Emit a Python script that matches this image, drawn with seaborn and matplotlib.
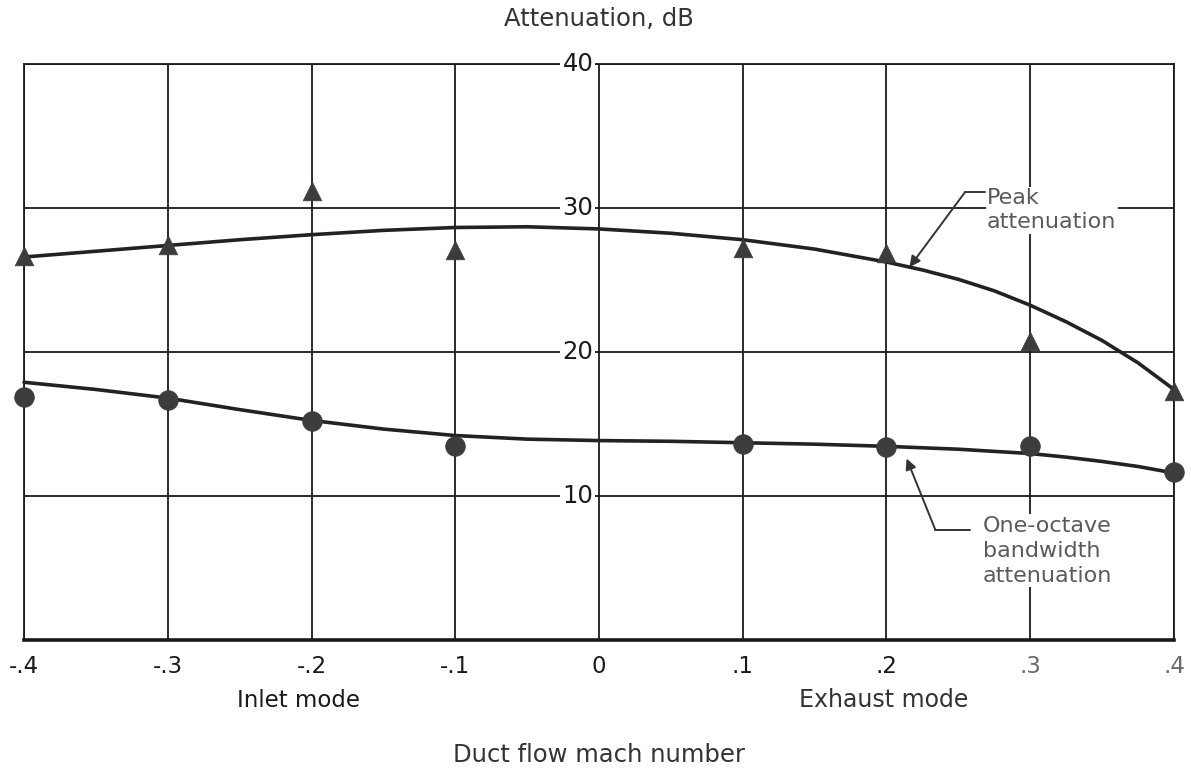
import numpy as np
import pandas as pd
import matplotlib
matplotlib.use("Agg")
import matplotlib.pyplot as plt
import matplotlib.transforms as mtransforms
import seaborn as sns

# Measured attenuation at each duct flow Mach number
mach = [-0.4, -0.3, -0.2, -0.1, 0.1, 0.2, 0.3, 0.4]
peak_measured = [26.7, 27.4, 31.2, 27.1, 27.2, 26.9, 20.8, 17.3]
octave_measured = [16.9, 16.7, 15.2, 13.5, 13.6, 13.4, 13.5, 11.7]

# Faired curves through the data
peak_curve_mach = [-0.4, -0.35, -0.3, -0.25, -0.2, -0.15, -0.1, -0.05, 0.0,
                   0.05, 0.1, 0.15, 0.2, 0.225, 0.25, 0.275, 0.3, 0.325,
                   0.35, 0.375, 0.4]
peak_curve = [26.6, 27.0, 27.4, 27.8, 28.15, 28.45, 28.65, 28.7, 28.55,
              28.25, 27.8, 27.15, 26.25, 25.7, 25.05, 24.25, 23.25, 22.1,
              20.8, 19.25, 17.4]
octave_curve_mach = [-0.4, -0.35, -0.3, -0.25, -0.2, -0.15, -0.1, -0.05, 0.0,
                     0.05, 0.1, 0.15, 0.2, 0.25, 0.3, 0.325, 0.35, 0.375, 0.4]
octave_curve = [17.9, 17.4, 16.8, 16.0, 15.25, 14.65, 14.2, 13.95, 13.85,
                13.8, 13.7, 13.6, 13.45, 13.25, 12.95, 12.7, 12.4, 12.05, 11.6]

x_ticks = [-0.4, -0.3, -0.2, -0.1, 0.0, 0.1, 0.2, 0.3, 0.4]
x_tick_labels = ["-.4", "-.3", "-.2", "-.1", "0", ".1", ".2", ".3", ".4"]
y_ticks = [10, 20, 30, 40]
y_tick_labels = ["10", "20", "30", "40"]

sns.set_theme(style="white")
plt.rcParams["font.family"] = ["DejaVu Sans"]

INK = "#1a1a1a"
FADED = "#5a5a5a"
MARK = "#3c3c3c"

fig = plt.figure(figsize=(11.91, 7.72), dpi=100)
ax = fig.add_axes([0.0202, 0.171, 0.9655, 0.746])

peak_line = pd.DataFrame({"mach": peak_curve_mach, "value": peak_curve})
octave_line = pd.DataFrame({"mach": octave_curve_mach, "value": octave_curve})
points = pd.DataFrame({"mach": mach, "peak": peak_measured, "octave": octave_measured})

sns.lineplot(data=peak_line, x="mach", y="value", ax=ax, color="#222222", lw=2.6,
             zorder=3, clip_on=False)
sns.lineplot(data=octave_line, x="mach", y="value", ax=ax, color="#222222", lw=2.6,
             zorder=3, clip_on=False)
sns.scatterplot(data=points, x="mach", y="peak", ax=ax, marker="^", s=180,
                color=MARK, edgecolor=MARK, linewidth=0.5, zorder=4, clip_on=False)
sns.scatterplot(data=points, x="mach", y="octave", ax=ax, marker="o", s=200,
                color=MARK, edgecolor=MARK, linewidth=0.5, zorder=4, clip_on=False)

ax.set_xlim(-0.4, 0.4)
ax.set_ylim(0, 40)
ax.set_xticks(x_ticks)
ax.set_xticklabels(x_tick_labels, fontsize=16.5, color=INK)
for lbl, val in zip(ax.get_xticklabels(), x_ticks):
    if val > 0.25:
        lbl.set_color("#6a6a6a")
ax.set_yticks([0] + y_ticks)
ax.set_yticklabels([])
ax.tick_params(axis="both", length=0, pad=11)
ax.grid(True, color=INK, lw=1.3)
ax.set_xlabel("")
ax.set_ylabel("")
for side in ["left", "right", "top"]:
    ax.spines[side].set_color(INK)
    ax.spines[side].set_linewidth(1.3)
ax.spines["bottom"].set_color(INK)
ax.spines["bottom"].set_linewidth(2.6)

# Scale values written beside the zero-Mach line
for val, lab in zip(y_ticks, y_tick_labels):
    ax.text(-0.004, val, lab, ha="right", va="center", fontsize=17.5, color=INK,
            zorder=5, bbox=dict(facecolor="white", edgecolor="none", pad=1.5))

# Mode captions under the axis
trans = mtransforms.blended_transform_factory(ax.transData, ax.transAxes)
ax.text(-0.209, -0.105, "Inlet mode", transform=trans, ha="center", va="center",
        fontsize=16.5, color=INK)
ax.text(0.198, -0.105, "Exhaust mode", transform=trans, ha="center", va="center",
        fontsize=17, color="#333333")

fig.text(0.503, 0.022, "Duct flow mach number", ha="center", va="center",
         fontsize=17.5, color="#333333")
fig.text(0.503, 0.976, "Attenuation, dB", ha="center", va="center",
         fontsize=17.5, color="#333333")

# Curve labels with leaders
ax.text(0.270, 29.85, "Peak\nattenuation", ha="left", va="center", fontsize=16,
        color=FADED, linespacing=1.25, zorder=5,
        bbox=dict(facecolor="white", edgecolor="none", pad=1.0))
ax.plot([0.2546, 0.2685], [31.1, 31.1], color="#333333", lw=1.4, zorder=6)
ax.annotate("", xy=(0.216, 25.9), xytext=(0.2546, 31.1),
            arrowprops=dict(arrowstyle="-|>", color="#333333", lw=1.4,
                            mutation_scale=16, shrinkA=0, shrinkB=0), zorder=6)

ax.text(0.267, 6.2, "One-octave\nbandwidth\nattenuation", ha="left", va="center",
        fontsize=16, color=FADED, linespacing=1.32, zorder=5,
        bbox=dict(facecolor="white", edgecolor="none", pad=1.0))
ax.plot([0.234, 0.258], [7.65, 7.65], color="#333333", lw=1.4, zorder=6)
ax.annotate("", xy=(0.214, 12.6), xytext=(0.234, 7.65),
            arrowprops=dict(arrowstyle="-|>", color="#333333", lw=1.4,
                            mutation_scale=16, shrinkA=0, shrinkB=0), zorder=6)

fig.savefig("out.png", dpi=100, facecolor="white")
